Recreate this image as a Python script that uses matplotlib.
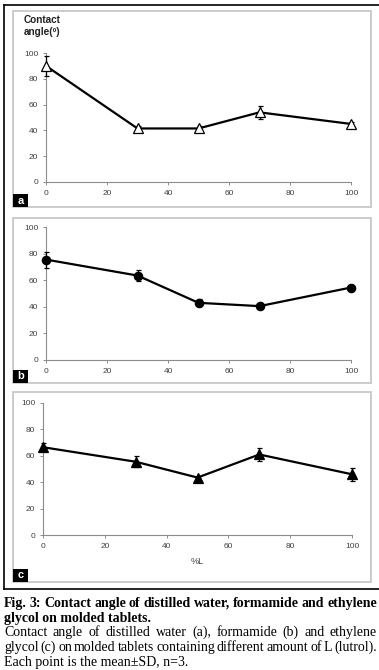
"""
Contact angle on molded tablets - three stacked panels with caption
"""
import matplotlib
matplotlib.use("Agg")
import matplotlib.pyplot as plt
from matplotlib.patches import Rectangle

# Data (% lutrol vs contact angle, mean and SD)
pct_L = [0, 30, 50, 70, 100]

water_mean = [90, 41.5, 41.5, 54, 45]
water_sd = [8, 2, 2, 5, 1.5]

formamide_mean = [75.5, 63.5, 43, 40.5, 54.5]
formamide_sd = [6, 4, 2.5, 2, 1]

glycol_mean = [66.5, 55.5, 43.5, 61, 46]
glycol_sd = [3, 4, 1.5, 5, 5]

y_ticks = [0, 20, 40, 60, 80, 100]
x_ticks = [0, 20, 40, 60, 80, 100]

caption_lines = [
    "Fig. 3: Contact angle of distilled water, formamide and ethylene",
    "glycol on molded tablets.",
    "Contact angle of distilled water (a), formamide (b) and ethylene",
    "glycol (c) on molded tablets containing different amount of L (lutrol).",
    "Each point is the mean\u00b1SD, n=3.",
]

W, H = 379, 670
DPI = 100

plt.rcParams['font.family'] = ['Liberation Sans', 'DejaVu Sans']

fig = plt.figure(figsize=(W / DPI, H / DPI), dpi=DPI)


def px_rect(x0, y0, x1, y1):
    """pixel box (top-left origin) -> figure [left, bottom, width, height]"""
    return [x0 / W, 1 - y1 / H, (x1 - x0) / W, (y1 - y0) / H]


def add_box(x0, y0, x1, y1, **kw):
    l, b, w, h = px_rect(x0, y0, x1, y1)
    fig.patches.append(Rectangle((l, b), w, h, transform=fig.transFigure, **kw))


# outer frame (only top, left, bottom visible)
fig.add_artist(plt.Line2D([4 / W, 1], [1 - 5 / H] * 2, color='black', lw=1.2))
fig.add_artist(plt.Line2D([4 / W, 4 / W], [1 - 5 / H, 1 - 589 / H], color='black', lw=1.2))
fig.add_artist(plt.Line2D([4 / W, 1], [1 - 589 / H] * 2, color='black', lw=1.2))

panels = [
    # box, axes, data, marker, face, label
    ((13, 11, 371, 207), (46, 53, 351, 182), water_mean, water_sd, '^', 'white', 'a'),
    ((13, 218, 371, 383), (46, 227, 351, 360), formamide_mean, formamide_sd, 'o', 'black', 'b'),
    ((13, 392, 371, 582), (43, 403, 352, 535), glycol_mean, glycol_sd, '^', 'black', 'c'),
]

for box, axbox, mean, sd, mk, face, lab in panels:
    add_box(*box, fill=False, edgecolor='#c4c4c4', lw=1.2)
    # label tag in the lower-left corner
    add_box(box[0], box[3] - 13, box[0] + 15, box[3], facecolor='black', edgecolor='none')
    fig.text((box[0] + 7.5) / W, 1 - (box[3] - 6.5) / H, lab, color='white',
             fontsize=8, fontweight='bold', ha='center', va='center')

    ax = fig.add_axes(px_rect(*axbox))
    ax.errorbar(pct_L, mean, yerr=sd, color='black', lw=1.6, marker=mk,
                markersize=6.5 if mk == '^' else 6, markerfacecolor=face,
                markeredgecolor='black', markeredgewidth=0.9,
                elinewidth=0.9, capsize=1.8, capthick=0.9, clip_on=False, zorder=3)
    ax.set_xlim(0, 100)
    ax.set_ylim(0, 100)
    ax.set_xticks(x_ticks)
    ax.set_yticks(y_ticks)
    for s in ['top', 'right']:
        ax.spines[s].set_visible(False)
    for s in ['left', 'bottom']:
        ax.spines[s].set_color('#8c8c8c')
        ax.spines[s].set_linewidth(0.8)
    ax.tick_params(direction='out', length=2.5, width=0.7, color='#8c8c8c',
                   labelsize=6, labelcolor='#404040', pad=3)
    ax.patch.set_alpha(0)

    if lab == 'a':
        fig.text(24 / W, 1 - 20 / H, "Contact", fontsize=7.2, fontweight='bold',
                 color='#222222', va='center')
        fig.text(24 / W, 1 - 32 / H, "angle(\u00ba)", fontsize=7.2, fontweight='bold',
                 color='#222222', va='center')
    if lab == 'c':
        ax.set_xlabel('%L', fontsize=6.5, color='#404040', labelpad=5)

# caption, justified like the journal layout
renderer = fig.canvas.get_renderer()
baselines = [607, 622, 636, 651, 666]
justify = [True, False, True, True, False]
bold = [True, True, False, False, False]
x_left, x_right = 4, 377

for line, yb, just, bf in zip(caption_lines, baselines, justify, bold):
    kw = dict(fontsize=10, family=['Liberation Serif', 'DejaVu Serif'],
              fontweight='bold' if bf else 'normal', va='baseline', ha='left',
              color='black')
    y = 1 - yb / H
    if not just:
        fig.text(x_left / W, y, line, **kw)
        continue
    words = line.split(' ')
    texts = [fig.text(0, y, w_, **kw) for w_ in words]
    widths = [t.get_window_extent(renderer).width for t in texts]
    gap = (x_right - x_left - sum(widths)) / (len(words) - 1)
    x = x_left
    for t, wd in zip(texts, widths):
        t.set_x(x / W)
        x += wd + gap

fig.savefig('out.png', dpi=DPI)
